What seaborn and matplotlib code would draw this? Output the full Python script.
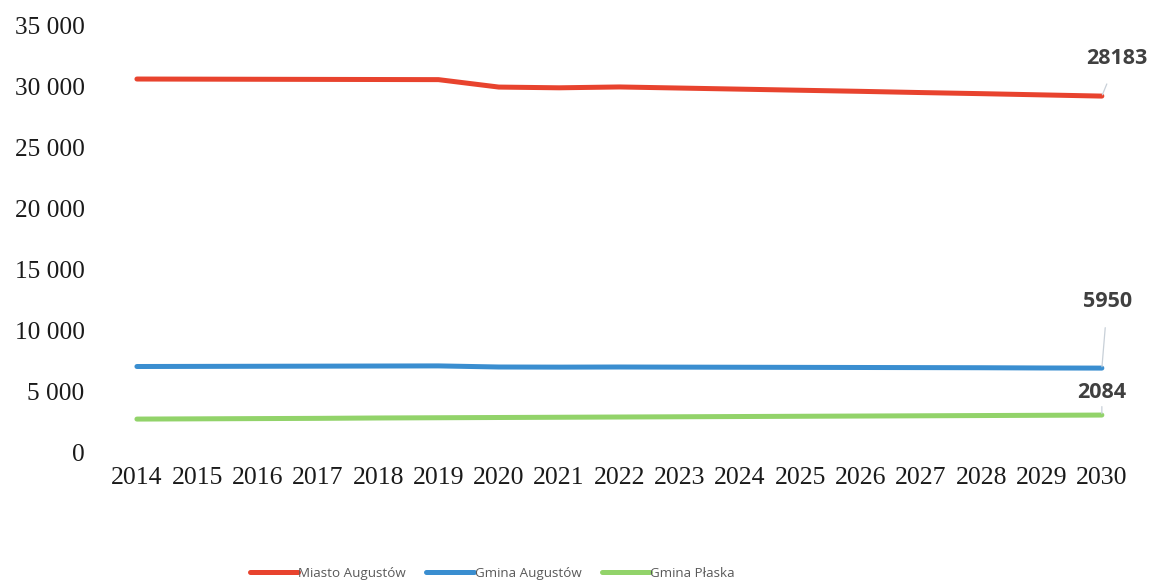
"""Population projection 2014-2030 for Miasto Augustów, Gmina Augustów, Gmina Płaska."""
import matplotlib
matplotlib.use("Agg")
import matplotlib.pyplot as plt
from matplotlib.ticker import FuncFormatter
import pandas as pd
import seaborn as sns

years = list(range(2014, 2031))
miasto_augustow = [30580, 30570, 30560, 30550, 30540, 30530, 29920, 29860, 29930,
                   29840, 29750, 29660, 29570, 29470, 29380, 29280, 29180]
gmina_augustow = [7010, 7020, 7030, 7040, 7050, 7060, 6970, 6960, 6970,
                  6960, 6950, 6940, 6930, 6920, 6910, 6890, 6880]
gmina_plaska = [2700, 2720, 2740, 2760, 2790, 2810, 2830, 2850, 2870,
                2890, 2910, 2930, 2950, 2970, 2990, 3010, 3030]
series = ["Miasto Augustów", "Gmina Augustów", "Gmina Płaska"]
end_labels = ["28183", "5950", "2084"]
colors = ["#E8432E", "#3A8ED0", "#92D36A"]

df = pd.DataFrame({
    "year": years * 3,
    "value": miasto_augustow + gmina_augustow + gmina_plaska,
    "series": [s for s in series for _ in years],
})

sns.set_style("white")
plt.rcParams["font.family"] = ["Liberation Serif", "DejaVu Serif"]

fig = plt.figure(figsize=(11.53, 5.84), dpi=100)
ax = fig.add_axes([0.0926, 0.226, 0.8892, 0.731])
sns.lineplot(df, x="year", y="value", hue="series", hue_order=series,
             palette=colors, linewidth=3.6, ax=ax, legend=True)
for line in ax.lines:
    line.set_solid_capstyle("round")

ax.set_xlim(2013.5, 2030.5)
ax.set_ylim(0, 35000)
ax.set_xticks(years)
ax.set_yticks(range(0, 35001, 5000))
ax.yaxis.set_major_formatter(FuncFormatter(lambda v, _: f"{int(v):,}".replace(",", " ")))
ax.tick_params(axis="y", length=0, pad=16, labelsize=18.3, labelcolor="#1a1a1a")
ax.tick_params(axis="x", length=0, pad=11, labelsize=18.5, labelcolor="#1a1a1a")
ax.set_xlabel("")
ax.set_ylabel("")
sns.despine(ax=ax, left=True, bottom=True)

# end-of-series data labels with thin leader lines
offsets = [(11, 27), (4, 48), (0, 16)]
ends = [miasto_augustow[-1], gmina_augustow[-1], gmina_plaska[-1]]
for val, txt, off in zip(ends, end_labels, offsets):
    ax.annotate(txt, xy=(years[-1], val), xytext=off, textcoords="offset points",
                ha="center", va="center", fontsize=15.5, fontweight="bold",
                family=["Open Sans", "DejaVu Sans"], color="#404040",
                arrowprops=dict(arrowstyle="-", color="#c8d0d8", lw=0.9,
                                shrinkA=9, shrinkB=1),
                annotation_clip=False)

handles, labels = ax.get_legend_handles_labels()
leg = ax.legend(handles, labels, loc="center", bbox_to_anchor=(0.427, 0.018),
                bbox_transform=fig.transFigure, ncol=3, frameon=False,
                handlelength=3.6, handletextpad=0.05, columnspacing=1.5,
                prop={"family": ["Open Sans", "DejaVu Sans"], "size": 9.6})
for t in leg.get_texts():
    t.set_color("#595959")

fig.savefig("out.png", dpi=100)
